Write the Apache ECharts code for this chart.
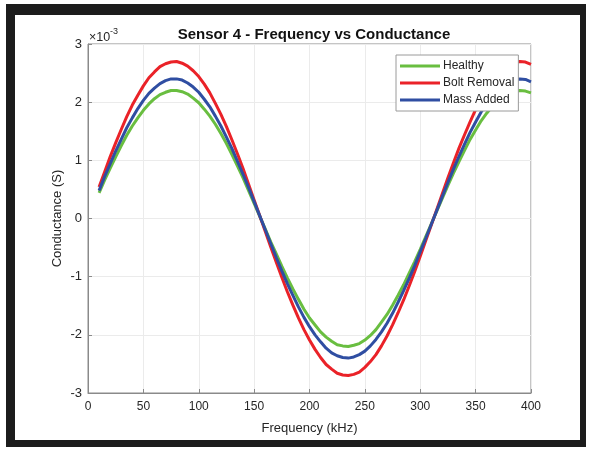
<!DOCTYPE html>
<html>
<head>
<meta charset="utf-8">
<script src="https://cdn.jsdelivr.net/npm/echarts@6/dist/echarts.min.js"></script>
<style>
  html, body { margin: 0; padding: 0; background: #fff; }
  #chart { width: 589px; height: 449px; }
</style>
</head>
<body>
<div id="chart"></div>
<script>
// frequency samples (kHz), 10..400 every 5
const freq = [10, 15, 20, 25, 30, 35, 40, 45, 50, 55, 60, 65, 70, 75, 80, 85, 90, 95, 100, 105,
  110, 115, 120, 125, 130, 135, 140, 145, 150, 155, 160, 165, 170, 175, 180, 185, 190, 195, 200, 205,
  210, 215, 220, 225, 230, 235, 240, 245, 250, 255, 260, 265, 270, 275, 280, 285, 290, 295, 300, 305,
  310, 315, 320, 325, 330, 335, 340, 345, 350, 355, 360, 365, 370, 375, 380, 385, 390, 395, 400]
// conductance, x10^-3 S
const healthy = [0.44, 0.66, 0.86, 1.06, 1.25, 1.43, 1.59, 1.73, 1.86, 1.97,
  2.06, 2.13, 2.17, 2.20, 2.20, 2.18, 2.14, 2.07, 1.99, 1.88,
  1.76, 1.62, 1.46, 1.29, 1.10, 0.90, 0.70, 0.48, 0.26, 0.04,
  -0.18, -0.40, -0.61, -0.82, -1.02, -1.21, -1.39, -1.56, -1.71, -1.83,
  -1.95, -2.04, -2.11, -2.17, -2.19, -2.20, -2.18, -2.15, -2.09, -2.01,
  -1.91, -1.78, -1.65, -1.49, -1.32, -1.14, -0.94, -0.74, -0.53, -0.31,
  -0.09, 0.13, 0.35, 0.57, 0.78, 0.98, 1.17, 1.36, 1.52, 1.68,
  1.81, 1.93, 2.02, 2.10, 2.16, 2.19, 2.20, 2.19, 2.16]
const boltRemoval = [0.54, 0.80, 1.06, 1.30, 1.53, 1.75, 1.95, 2.12, 2.28, 2.42,
  2.52, 2.61, 2.66, 2.69, 2.70, 2.67, 2.62, 2.54, 2.44, 2.31,
  2.16, 1.98, 1.79, 1.58, 1.35, 1.11, 0.86, 0.59, 0.32, 0.05,
  -0.22, -0.49, -0.75, -1.01, -1.26, -1.49, -1.71, -1.91, -2.09, -2.25,
  -2.39, -2.51, -2.59, -2.66, -2.69, -2.70, -2.68, -2.64, -2.56, -2.46,
  -2.34, -2.19, -2.02, -1.83, -1.62, -1.40, -1.16, -0.91, -0.65, -0.38,
  -0.11, 0.16, 0.43, 0.70, 0.96, 1.21, 1.44, 1.66, 1.87, 2.06,
  2.22, 2.37, 2.48, 2.58, 2.65, 2.69, 2.70, 2.69, 2.65]
const massAdded = [0.48, 0.72, 0.94, 1.16, 1.36, 1.56, 1.73, 1.89, 2.03, 2.15,
  2.24, 2.32, 2.37, 2.40, 2.40, 2.38, 2.33, 2.26, 2.17, 2.05,
  1.92, 1.76, 1.59, 1.40, 1.20, 0.98, 0.76, 0.53, 0.29, 0.05,
  -0.19, -0.43, -0.67, -0.90, -1.12, -1.32, -1.52, -1.70, -1.86, -2.00,
  -2.12, -2.23, -2.31, -2.36, -2.39, -2.40, -2.38, -2.34, -2.28, -2.19,
  -2.08, -1.95, -1.80, -1.63, -1.44, -1.24, -1.03, -0.81, -0.57, -0.34,
  -0.10, 0.14, 0.38, 0.62, 0.85, 1.07, 1.28, 1.48, 1.66, 1.83,
  1.98, 2.10, 2.21, 2.29, 2.35, 2.39, 2.40, 2.39, 2.35]

const seriesNames = ['Healthy', 'Bolt Removal', 'Mass Added']
const seriesColors = ['#69be40', '#ea2228', '#2f4ea2']
const seriesData = [healthy, boltRemoval, massAdded]

const font = '"Liberation Sans", Arial, sans-serif'
const txt = '#262626'
const frame = '#1c1c1c'

const chart = echarts.init(document.getElementById('chart'))

const series = seriesNames.map((name, i) => ({
  name,
  type: 'line',
  smooth: false,
  symbol: 'none',
  color: seriesColors[i],
  lineStyle: { width: 3 },
  data: freq.map((f, j) => [f, seriesData[i][j]])
}))

chart.setOption({
  animation: false,
  textStyle: { fontFamily: font },
  title: {
    text: 'Sensor 4 - Frequency vs Conductance',
    left: 309,
    top: 22,
    textAlign: 'center',
    textStyle: { fontSize: 15, fontWeight: 'bold', color: '#111', fontFamily: font }
  },
  grid: {
    left: 88, right: 58, top: 44, bottom: 56,
    show: true, borderColor: '#8a8a8a', borderWidth: 1, backgroundColor: 'transparent'
  },
  legend: {
    orient: 'vertical',
    left: 396,
    top: 55,
    padding: [5, 4, 5, 4],
    itemGap: 5,
    itemWidth: 40,
    itemHeight: 3,
    icon: 'rect',
    backgroundColor: '#fff',
    borderColor: '#9a9a9a',
    borderWidth: 1,
    textStyle: { fontSize: 12, color: txt, fontFamily: font, padding: [0, 0, 0, -2] },
    data: seriesNames
  },
  xAxis: {
    type: 'value',
    min: 0, max: 400, interval: 50,
    name: 'Frequency (kHz)',
    nameLocation: 'middle',
    nameGap: 29,
    nameMoveOverlap: false,
    nameTextStyle: { fontSize: 13, color: txt, fontFamily: font },
    axisLine: { show: true, onZero: false, lineStyle: { color: '#8a8a8a' } },
    axisTick: { show: true, inside: true, length: 4, lineStyle: { color: '#8a8a8a' } },
    axisLabel: { fontSize: 12, color: txt, margin: 8, fontFamily: font },
    splitLine: { show: true, lineStyle: { color: '#ebebeb', width: 1 } }
  },
  yAxis: {
    type: 'value',
    min: -3, max: 3, interval: 1,
    name: 'Conductance (S)',
    nameLocation: 'middle',
    nameGap: 24,
    nameMoveOverlap: false,
    nameRotate: 90,
    nameTextStyle: { fontSize: 13, color: txt, fontFamily: font },
    axisLine: { show: true, lineStyle: { color: '#8a8a8a' } },
    axisTick: { show: true, inside: true, length: 4, lineStyle: { color: '#8a8a8a' } },
    axisLabel: { fontSize: 13, color: txt, margin: 6, fontFamily: font },
    splitLine: { show: true, lineStyle: { color: '#ebebeb', width: 1 } }
  },
  graphic: [
    // exponent note
    { type: 'text', left: 89, top: 31, style: { text: '\u00d710', fontSize: 12.5, fill: txt, fontFamily: font } },
    { type: 'text', left: 110, top: 27, style: { text: '-3', fontSize: 9, fill: txt, fontFamily: font } },
    // black frame
    { type: 'rect', shape: { x: 6, y: 4, width: 580, height: 11 }, style: { fill: frame } },
    { type: 'rect', shape: { x: 6, y: 4, width: 9, height: 443 }, style: { fill: frame } },
    { type: 'rect', shape: { x: 580, y: 4, width: 6, height: 443 }, style: { fill: frame } },
    { type: 'rect', shape: { x: 6, y: 440, width: 580, height: 7 }, style: { fill: frame } }
  ],
  series
})
</script>
</body>
</html>
